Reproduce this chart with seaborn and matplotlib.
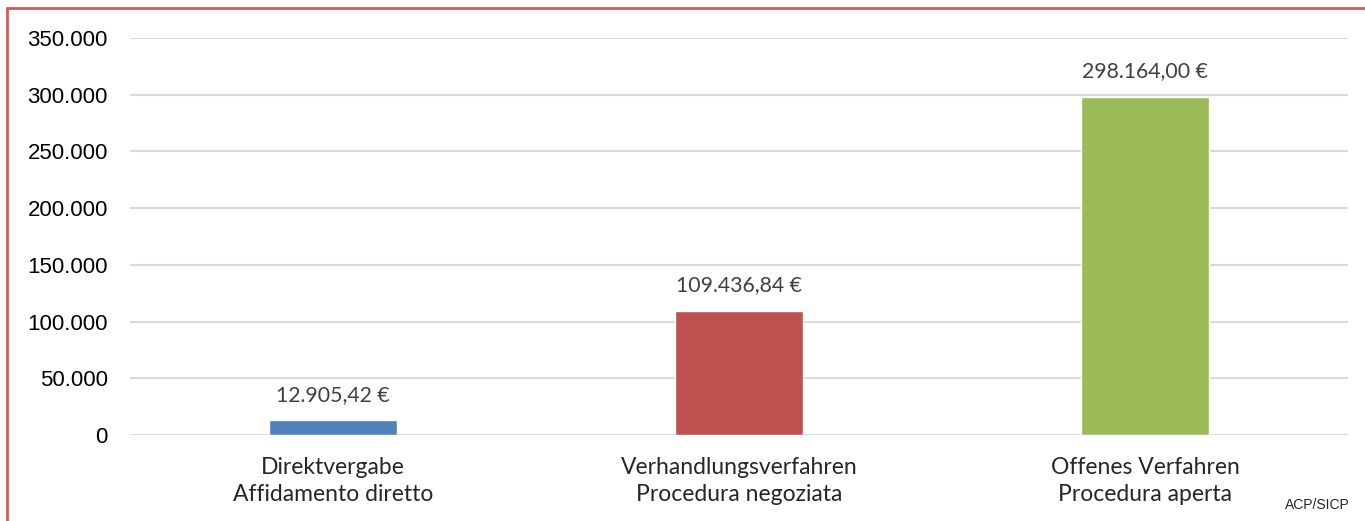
import pandas as pd
import numpy as np
import matplotlib
matplotlib.use('Agg')
import matplotlib.pyplot as plt
import seaborn as sns
from matplotlib.ticker import FuncFormatter

sns.set_style("white")
plt.rcParams['font.family'] = ['Liberation Sans', 'DejaVu Sans']

# == data
categories = ['Direktvergabe\nAffidamento diretto',
              'Verhandlungsverfahren\nProcedura negoziata',
              'Offenes Verfahren\nProcedura aperta']
values = [12905.42, 109436.84, 298164.00]
value_labels = ['12.905,42 €', '109.436,84 €', '298.164,00 €']
colors = ['#4F81BD', '#C0504D', '#9BBB59']
yticks = [0, 50000, 100000, 150000, 200000, 250000, 300000, 350000]

df = pd.DataFrame({'cat': categories, 'val': values})

fig = plt.figure(figsize=(13.65, 5.21), dpi=100)
ax = fig.add_axes([130/1365, 1-435/521, (1348-130)/1365, (435-38)/521])

sns.barplot(data=df, x='cat', y='val', hue='cat', palette=colors,
            width=0.315, legend=False, ax=ax, saturation=1)

ax.set_ylim(0, 350000)
ax.set_xlim(-0.5, 2.5)
ax.set_yticks(yticks)
ax.yaxis.set_major_formatter(FuncFormatter(lambda v, p: '{:,.0f}'.format(v).replace(',', '.')))
ax.grid(axis='y', color='#d9d9d9', lw=1.5)
ax.set_axisbelow(True)
for s in ax.spines.values():
    s.set_visible(False)
ax.tick_params(axis='y', length=0, pad=16, labelsize=16, labelcolor='black')
ax.tick_params(axis='x', length=0, pad=16)
for t in ax.get_xticklabels():
    t.set_fontfamily(['Lato', 'DejaVu Sans'])
    t.set_fontsize(16.5)
    t.set_color('#262626')
    t.set_linespacing(1.35)
ax.set_xlabel('')
ax.set_ylabel('')

# == value labels
for i, (v, lab) in enumerate(zip(values, value_labels)):
    ax.annotate(lab, (i, v), xytext=(0, 11), textcoords='offset points',
                ha='center', va='bottom', fontsize=15.3, color='#404040',
                family=['Lato', 'DejaVu Sans'])

fig.text(1350/1365, 1-505/521, 'ACP/SICP', ha='right', va='center', fontsize=10)

# == red frame on top and left
fig.add_artist(plt.Line2D([7/1365, 1], [1-8/521, 1-8/521], color='#d9575c', lw=2))
fig.add_artist(plt.Line2D([7/1365, 7/1365], [0, 1-8/521], color='#d9575c', lw=2))

fig.savefig('out.png', dpi=100)
plt.close()
